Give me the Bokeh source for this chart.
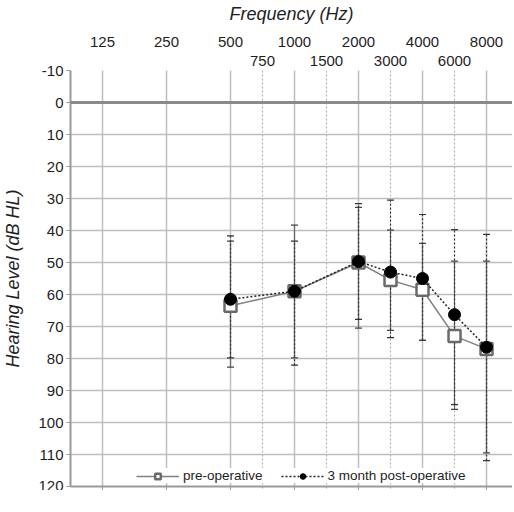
from bokeh.plotting import figure
from bokeh.models import (Range1d, LinearAxis, FixedTicker, Span, Legend, LegendItem,
                          Whisker, TeeHead, ColumnDataSource, Grid)
from bokeh.embed import file_html
from bokeh.resources import INLINE

# ---- data ----
octave_freqs = [125, 250, 500, 1000, 2000, 4000, 8000]
mid_freqs = [750, 1500, 3000, 6000]
freqs = [500, 1000, 2000, 3000, 4000, 6000, 8000]
pre_op = [63.5, 59, 50, 55.5, 58.5, 73, 77]
post_op = [61.5, 59, 49.7, 53, 55, 66.3, 76.5]
pre_upper = [43.3, 38.3, 32.8, 39.9, 44, 49.6, 49.6]
pre_lower = [82.7, 79.8, 70.5, 71.2, 74.3, 95.9, 109.5]
post_upper = [41.7, 43.3, 31.6, 30.5, 35, 39.7, 41.2]
post_lower = [79.8, 82.1, 67.8, 73.5, 74.3, 94.4, 111.9]
y_ticks = list(range(-10, 121, 10))

# audiogram positions: octave index, intermediate frequencies halfway between octaves
pos = {f: i for i, f in enumerate(octave_freqs)}
pos.update({750: 2.5, 1500: 3.5, 3000: 4.5, 6000: 5.5})
xs = [pos[f] for f in freqs]

FONT = "Liberation Sans"
GRID = "#bdbdbd"
TXT = "#1e1e1e"

p = figure(frame_width=442, frame_height=416, output_backend="svg", toolbar_location=None,
           x_range=Range1d(-0.5, 6.406), y_range=Range1d(120, -10),
           x_axis_location=None,
           min_border_left=0, min_border_right=0, min_border_top=0, min_border_bottom=0,
           outline_line_color=None)

# bottom axis: ticks only
xa = LinearAxis(ticker=FixedTicker(ticks=[pos[f] for f in octave_freqs],
                                   minor_ticks=[pos[f] for f in mid_freqs]),
                major_label_overrides={pos[f]: "" for f in octave_freqs},
                major_label_standoff=0, major_label_text_font_size="1px",
                axis_line_color="#999999", axis_line_width=2,
                major_tick_line_color="#999999", major_tick_out=4, major_tick_in=0,
                minor_tick_line_color="#999999", minor_tick_out=2, minor_tick_in=0)
p.add_layout(xa, "below")

# left axis
ya = p.yaxis[0]
ya.ticker = FixedTicker(ticks=y_ticks)
ya.major_label_overrides = {t: str(t) for t in y_ticks}
ya.major_label_text_font = FONT
ya.major_label_text_font_size = "15px"
ya.major_label_text_color = TXT
ya.major_label_standoff = 3
ya.major_tick_out = 4
ya.major_tick_in = 0
ya.major_tick_line_color = "#999999"
ya.minor_tick_line_color = None
ya.axis_line_color = "#999999"
ya.axis_line_width = 2
ya.axis_label = "Hearing Level (dB HL)"
ya.axis_label_text_font = FONT
ya.axis_label_text_font_size = "18px"
ya.axis_label_text_font_style = "italic"
ya.axis_label_text_color = TXT
ya.axis_label_standoff = 12

# grids
p.add_layout(Grid(dimension=0, ticker=xa.ticker, grid_line_color=GRID, grid_line_width=1.5,
                  minor_grid_line_color="#aaaaaa", minor_grid_line_dash="2 2",
                  minor_grid_line_width=1))
p.ygrid.ticker = FixedTicker(ticks=y_ticks)
p.ygrid.grid_line_color = GRID
p.ygrid.grid_line_width = 1.5
p.add_layout(Span(location=0, dimension="width", line_color="#8a8a8a", line_width=3))

# top axes (two rows of frequency labels)
inner = LinearAxis(ticker=FixedTicker(ticks=[pos[f] for f in mid_freqs]),
                   major_label_overrides={pos[f]: str(f) for f in mid_freqs},
                   axis_line_color=None, major_tick_line_color=None, minor_tick_line_color=None,
                   major_tick_out=0, major_tick_in=0,
                   major_label_text_font=FONT, major_label_text_font_size="15px",
                   major_label_text_color=TXT, major_label_standoff=5)
outer = LinearAxis(ticker=FixedTicker(ticks=[pos[f] for f in octave_freqs]),
                   major_label_overrides={pos[f]: str(f) for f in octave_freqs},
                   axis_line_color=None, major_tick_line_color=None, minor_tick_line_color=None,
                   major_tick_out=0, major_tick_in=0,
                   major_label_text_font=FONT, major_label_text_font_size="15px",
                   major_label_text_color=TXT, major_label_standoff=6,
                   axis_label="Frequency (Hz)", axis_label_text_font=FONT,
                   axis_label_text_font_size="18px", axis_label_text_font_style="italic",
                   axis_label_text_color=TXT, axis_label_standoff=10)
p.add_layout(inner, "above")
p.add_layout(outer, "above")

# error bars
src_pre = ColumnDataSource(dict(x=xs, y=pre_op, up=pre_upper, lo=pre_lower))
src_post = ColumnDataSource(dict(x=xs, y=post_op, up=post_upper, lo=post_lower))
p.add_layout(Whisker(source=src_pre, base="x", upper="up", lower="lo",
                     line_color="#666666", line_width=1.2,
                     upper_head=TeeHead(size=7, line_color="#444444", line_width=1.2),
                     lower_head=TeeHead(size=7, line_color="#444444", line_width=1.2)))
p.add_layout(Whisker(source=src_post, base="x", upper="up", lower="lo",
                     line_color="#333333", line_width=1.2, line_dash="2 2",
                     upper_head=TeeHead(size=7, line_color="#333333", line_width=1.2),
                     lower_head=TeeHead(size=7, line_color="#333333", line_width=1.2)))

# series
l1 = p.line("x", "y", source=src_pre, line_color="#808080", line_width=1.5)
s1 = p.scatter("x", "y", source=src_pre, marker="square", size=12, fill_color="white",
               line_color="#6a6a6a", line_width=2.5)
l2 = p.line("x", "y", source=src_post, line_color="#222222", line_width=1.5, line_dash="2 2")
s2 = p.scatter("x", "y", source=src_post, marker="circle", size=12, fill_color="black",
               line_color="black")

legend = Legend(items=[LegendItem(label="pre-operative", renderers=[l1, s1]),
                       LegendItem(label="3 month post-operative", renderers=[l2, s2])],
                orientation="horizontal", location=(66, 3), border_line_color=None,
                background_fill_color="white", background_fill_alpha=1,
                label_text_font=FONT, label_text_font_size="13.5px",
                label_text_color=TXT, glyph_width=43, glyph_height=14,
                spacing=18, padding=2, margin=0, label_standoff=4, label_height=14)
p.add_layout(legend, "center")

open("out.html", "w").write(file_html(p, INLINE))
